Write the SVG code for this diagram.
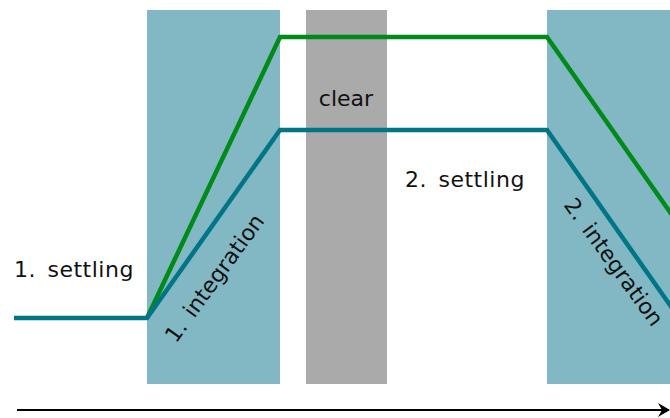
<svg xmlns="http://www.w3.org/2000/svg" width="670" height="418" viewBox="0 0 670 418">
<style>
.band{fill:#82b8c4}
.clr{fill:#aaaaaa}
.t{font-family:"DejaVu Sans",sans-serif;font-size:22px;fill:#111;letter-spacing:0.5px;word-spacing:4px}
.r{letter-spacing:0;word-spacing:3px}
.g{fill:none;stroke:#008a1a;stroke-width:4.5;stroke-linejoin:miter}
.b{fill:none;stroke:#007585;stroke-width:4.5;stroke-linejoin:miter}
</style>
<defs>
<marker id="ah" viewBox="0 0 12 14" refX="11" refY="7" markerWidth="12" markerHeight="14" markerUnits="userSpaceOnUse" orient="auto">
<path d="M0,0 L12,7 L0,14 L4,7 z" fill="#000"/>
</marker>
</defs>
<g id="int1"><rect class="band" x="147" y="10" width="133" height="374"/></g>
<g id="clear"><rect class="clr" x="306" y="10" width="81" height="374"/><text class="t" x="346" y="106" text-anchor="middle" style="letter-spacing:0">clear</text></g>
<g id="int2"><rect class="band" x="547" y="10" width="123" height="374"/></g>
<g id="connectors">
<polyline class="g" points="147,318 280,37 547,37 672,215"/>
<polyline class="b" points="14,318 147,318 280,130 547,130 672,308"/>
<line x1="17" y1="410" x2="669" y2="410" stroke="#000" stroke-width="2" marker-end="url(#ah)"/>
</g>
<g id="labels">
<text class="t" x="14" y="277">1. settling</text>
<text class="t" x="405" y="187">2. settling</text>
<text class="t r" transform="translate(176,344) rotate(-54)">1. integration</text>
<text class="t r" transform="translate(563,205) rotate(54)">2. integration</text>
</g>
</svg>
